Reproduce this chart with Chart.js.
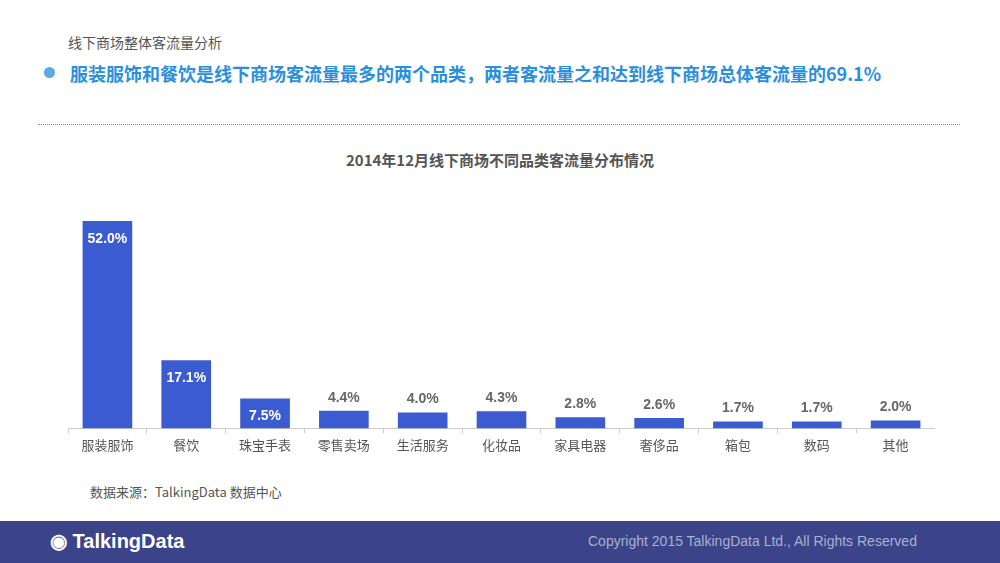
<!DOCTYPE html>
<html><head><meta charset="utf-8">
<script src="https://cdn.jsdelivr.net/npm/chart.js@4"></script>
<style>
body{margin:0;width:1000px;height:563px;background:#fff;position:relative;overflow:hidden;font-family:"Noto Sans CJK SC","Liberation Sans",sans-serif}
#t1{position:absolute;left:68px;top:32px;font-size:14px;color:#555}
#dot{position:absolute;left:44px;top:67px;width:11px;height:11px;border-radius:50%;background:#5aa9e6}
#t2{position:absolute;left:70px;top:60px;font-size:18px;font-weight:bold;color:#2b8fdc}
#hr{position:absolute;left:38px;top:124px;width:922px;border-top:1px dotted #7a8fc4}
#ct{position:absolute;left:0;width:1000px;top:149px;text-align:center;font-size:15px;font-weight:bold;color:#555}
#src{position:absolute;left:90px;top:482px;font-size:13px;color:#555}
#foot{position:absolute;left:0;top:521px;width:1000px;height:42px;background:#3b4488}
#logo{position:absolute;left:50px;top:529px;font-size:20px;font-weight:bold;color:#fff;font-family:"Liberation Sans",sans-serif}
#copy{position:absolute;left:588px;top:533px;font-size:14px;color:#aab0d0;font-family:"Liberation Sans",sans-serif}
#wrap{position:absolute;left:68px;top:172px;width:867px;height:285px}
</style></head><body>
<div id="t1">线下商场整体客流量分析</div>
<div id="dot"></div>
<div id="t2">服装服饰和餐饮是线下商场客流量最多的两个品类，两者客流量之和达到线下商场总体客流量的69.1%</div>
<div id="hr"></div>
<div id="ct">2014年12月线下商场不同品类客流量分布情况</div>
<div id="wrap"><canvas id="c"></canvas></div>
<div id="src">数据来源：TalkingData 数据中心</div>
<div id="foot"></div>
<div id="logo">◉ TalkingData</div>
<div id="copy">Copyright 2015 TalkingData Ltd., All Rights Reserved</div>
<script>
const categories=["服装服饰","餐饮","珠宝手表","零售卖场","生活服务","化妆品","家具电器","奢侈品","箱包","数码","其他"];
const values=[52.0,17.1,7.5,4.4,4.0,4.3,2.8,2.6,1.7,1.7,2.0];
const labelPlugin={id:'lbl',afterDatasetsDraw(ch){
 const ctx=ch.ctx;const meta=ch.getDatasetMeta(0);
 ctx.save();ctx.textAlign='center';ctx.font='bold 14px "Liberation Sans",sans-serif';
 meta.data.forEach((b,i)=>{const v=values[i];const t=v.toFixed(1)+'%';
  if(v>7){ctx.fillStyle='#fff';ctx.textBaseline='top';ctx.fillText(t,b.x,b.y+11);}
  else{ctx.fillStyle='#666';ctx.textBaseline='bottom';ctx.fillText(t,b.x,b.y-6);}
 });ctx.restore();}};
new Chart(document.getElementById('c'),{type:'bar',
 data:{labels:categories,datasets:[{data:values,backgroundColor:'#3b5bd0',barPercentage:0.63,categoryPercentage:1}]},
 options:{responsive:true,maintainAspectRatio:false,animation:false,
  layout:{padding:{top:9}},
  plugins:{legend:{display:false},tooltip:{enabled:false}},
  scales:{y:{display:false,min:0,max:62},
   x:{grid:{display:true,drawOnChartArea:false,color:'#ccc',tickLength:5},border:{color:'#ccc'},
    ticks:{color:'#555',font:{size:13,family:'"Noto Sans CJK SC"'},padding:4}}}},
 plugins:[labelPlugin]});
</script>
</body></html>
